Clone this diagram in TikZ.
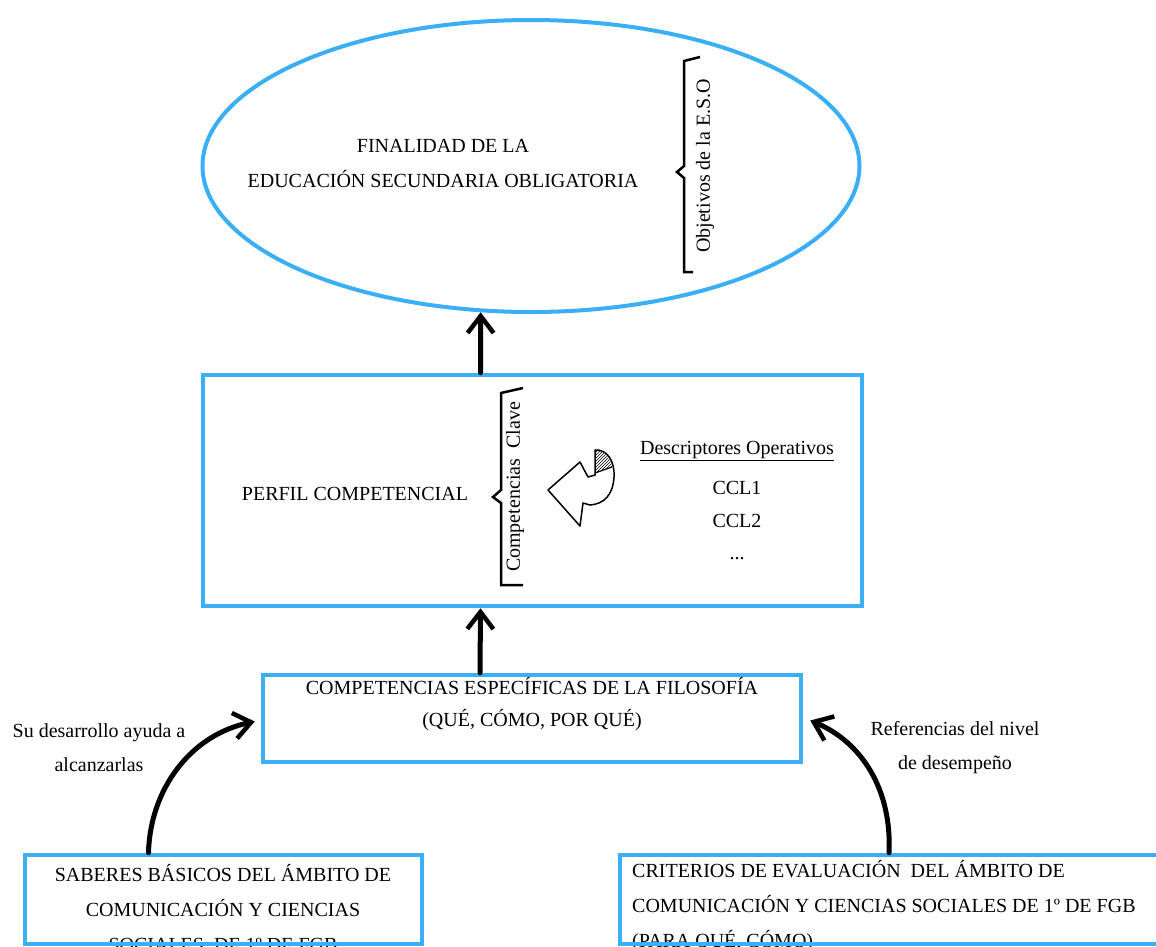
\documentclass[tikz,border=0pt]{standalone}
\usepackage{fontspec}
\setmainfont{Liberation Serif}
\usetikzlibrary{arrows.meta,shapes.geometric,patterns}
\definecolor{skyb}{RGB}{59,175,245}
\begin{document}
\begin{tikzpicture}[x=1pt,y=-1pt,
 box/.style={draw=skyb,line width=4.5pt,inner sep=0pt},
 txt/.style={font=\fontsize{20}{35}\selectfont,align=center,inner sep=0pt},
 vtxt/.style={font=\fontsize{20}{22}\selectfont,rotate=90,inner sep=0pt},
 conn/.style={line width=5pt,line cap=round,-{Straight Barb[length=17pt,width=26pt,line width=4.5pt]}},
 brace/.style={line width=2.5pt,line join=miter}
]
\useasboundingbox (0,0) rectangle (1156,946);
\clip (0,0) rectangle (1156,946);

% top ellipse
\node[ellipse, draw=skyb, line width=4pt, minimum width=657pt, minimum height=292pt] (fin) at (531,166) {};
\node[txt] (fintxt) at (443,163) {FINALIDAD DE LA\\EDUCACIÓN SECUNDARIA OBLIGATORIA};
\draw[brace] (700,57) -- (684,61) -- (684,166) -- (677,172) -- (684,178) -- (684,272) -- (693,272);
\node[vtxt] (obj) at (705,166) {Objetivos de la E.S.O};

% perfil box
\node[box, minimum width=659pt, minimum height=231pt] (perfil) at (532.5,490.5) {};
\node[txt] (perfiltxt) at (355,494) {PERFIL COMPETENCIAL};
\draw[brace] (523,388) -- (501,393) -- (501,490) -- (493,497) -- (501,503) -- (501,585) -- (523,585);
\node[vtxt] (ccl) at (515,487) {Competencias\ \ Clave};
\draw[line width=1.5pt, fill=white, line join=round] (548,490) -- (580,462) -- (588,477) -- (595,475) -- (595,450)
  .. controls (607,449) and (615,461) .. (614,477) .. controls (613,495) and (604,504) .. (590,505)
  -- (583,503) -- (580,526) -- cycle;
\fill[pattern=north east lines] (595,450) .. controls (604,450) and (611,458) .. (612,467) -- (595,473) -- cycle;
\draw[line width=1.2pt] (595,473) -- (612,467);
\node[txt] (desc) at (737,451) {\underline{Descriptores Operativos}};
\node[txt] (c1) at (737,488) {CCL1};
\node[txt] (c2) at (737,521) {CCL2};
\node[txt] (c3) at (737,559) {...};

% competencias especificas
\node[txt,font=\fontsize{20}{32}\selectfont] (comptxt) at (532,704) {COMPETENCIAS ESPECÍFICAS DE LA FILOSOFÍA\\(QUÉ, CÓMO, POR QUÉ)};
\node[box, minimum width=538pt, minimum height=87pt] (comp) at (532,718.5) {};

% bottom boxes
\node[txt] (sabtxt) at (223,908) {SABERES BÁSICOS DEL ÁMBITO DE\\COMUNICACIÓN Y CIENCIAS\\SOCIALES\ \ DE 1º DE FGB};
\node[box, minimum width=397pt, minimum height=89pt] (sab) at (223.5,899.5) {};
\node[txt,align=left,anchor=west] (crittxt) at (632,906) {CRITERIOS DE EVALUACIÓN\ \ DEL ÁMBITO DE\\COMUNICACIÓN Y CIENCIAS SOCIALES DE 1º DE FGB\\(PARA QUÉ, CÓMO)};
\node[box, minimum width=550pt, minimum height=89pt] (crit) at (895,899.5) {};

% labels
\node[txt,font=\fontsize{20}{34}\selectfont] (lab1) at (99,748) {Su desarrollo ayuda a\\alcanzarlas};
\node[txt,font=\fontsize{20}{34}\selectfont] (lab2) at (955,748) {Referencias del nivel\\de desempeño};

% connectors
\draw[conn] ([xshift=-52pt]perfil.north) -- (fin.251);
\draw[conn] ([xshift=-52pt]comp.north) -- ([xshift=-52pt]perfil.south);
\draw[conn] ([xshift=-75pt]sab.north) .. controls (150,790) and (190,735) .. ([xshift=-6pt,yshift=-3pt]comp.west);
\draw[conn] ([xshift=-6pt]crit.north) .. controls (892,790) and (862,742) .. ([xshift=7pt,yshift=-2pt]comp.east);
\end{tikzpicture}
\end{document}
